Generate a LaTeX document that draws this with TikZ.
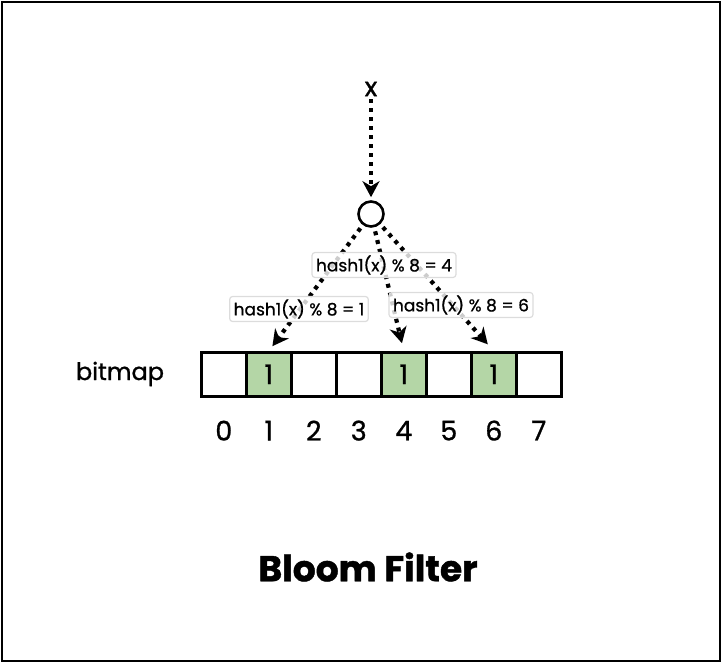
\documentclass[tikz,border=0pt]{standalone}
\usepackage{fontspec}
\setmainfont{Poppins}[FakeBold=1.2]
\newfontfamily\medfont{Poppins}[FakeBold=1.2,AutoFakeBold=1.2]
\usetikzlibrary{arrows.meta}
\definecolor{cellgreen}{RGB}{180,214,166}
\definecolor{lblborder}{RGB}{220,220,220}
\tikzset{
  cellbox/.style={draw=black,line width=2.6pt,minimum width=45pt,minimum height=44pt,inner sep=0pt,font=\medfont\addfontfeature{FakeBold=1}\fontsize{27}{29}\selectfont,anchor=north west},
  setcell/.style={cellbox,fill=cellgreen},
  idx/.style={font=\medfont\addfontfeature{FakeBold=1}\fontsize{27}{29}\selectfont,inner sep=0pt},
  dotarrow/.style={line width=4.2pt,dash pattern=on 4pt off 5pt,-{Stealth[length=16pt,width=17pt,inset=5pt]}},
  hlabel/.style={draw=lblborder,line width=1.2pt,rounded corners=3pt,fill=white,fill opacity=0.8,text opacity=1,font=\medfont\addfontfeature{FakeBold=0.8}\fontsize{17}{19}\selectfont,inner xsep=4pt,inner ysep=3pt,minimum height=25pt}
}
\begin{document}
\begin{tikzpicture}[x=1pt,y=-1pt]
\useasboundingbox (0,0) rectangle (722,663);
\draw[line width=2.6pt] (2,2) rectangle (720,661);
% input
\node[font=\medfont\addfontfeature{FakeBold=1.2}\fontsize{26}{28}\selectfont,inner sep=0pt] (x) at (371,89) {x};
\node[draw,circle,line width=2.6pt,minimum size=25pt,inner sep=0pt] (h) at (371,214) {};
% bitmap
\node[font=\medfont\addfontfeature{FakeBold=1}\fontsize{24}{26}\selectfont,inner sep=0pt] (bm) at (120,374) {bitmap};
\node[cellbox] (c0) at (200,351) {};
\node[setcell] (c1) at (245,351) {1};
\node[cellbox] (c2) at (290,351) {};
\node[cellbox] (c3) at (335,351) {};
\node[setcell] (c4) at (380,351) {1};
\node[cellbox] (c5) at (425,351) {};
\node[setcell] (c6) at (470,351) {1};
\node[cellbox] (c7) at (515,351) {};
\foreach \i in {0,...,7}{
  \node[idx] (i\i) at ([yshift=-33pt]c\i.south) {\i};
}
% arrows
\draw[dotarrow,shorten <=3pt,shorten >=3pt] (x) -- (h);
\draw[dotarrow,shorten <=4pt,shorten >=6pt] (h) -- (c1.north);
\draw[dotarrow,shorten <=4pt,shorten >=8pt] (h) -- (c4.north);
\draw[dotarrow,shorten <=4pt,shorten >=9pt] (h) -- (c6.north);
% labels
\node[hlabel] (l4) at (384,265) {hash1(x) \% 8 = 4};
\node[hlabel] (l1) at (299,309) {hash1(x) \% 8 = 1};
\node[hlabel] (l6) at (461,305) {hash1(x) \% 8 = 6};
% title
\node[font=\bfseries\fontsize{36}{40}\selectfont,inner sep=0pt] (title) at (368,567) {Bloom Filter};
\end{tikzpicture}
\end{document}
